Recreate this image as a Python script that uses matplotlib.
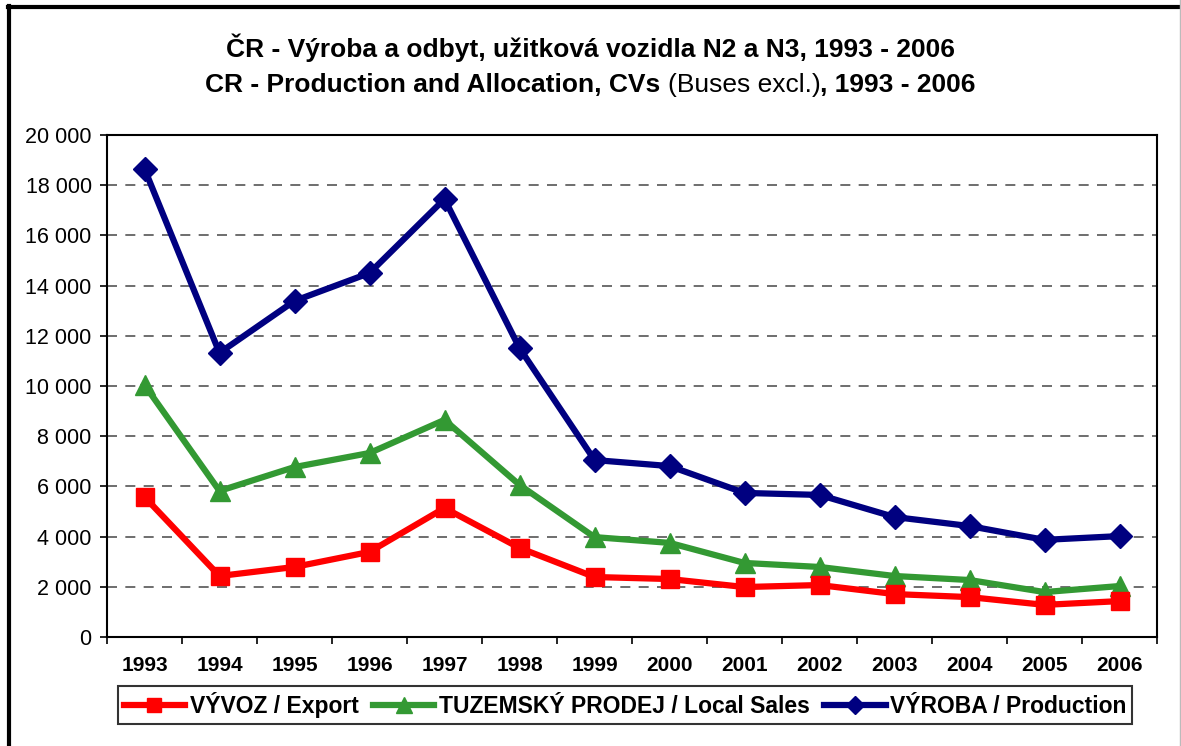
import matplotlib
matplotlib.use("Agg")
from matplotlib import pyplot as plt
from matplotlib.lines import Line2D

plt.rcParams['font.family'] = ['Liberation Sans', 'DejaVu Sans']

years = ['1993', '1994', '1995', '1996', '1997', '1998', '1999',
         '2000', '2001', '2002', '2003', '2004', '2005', '2006']
export = [5580, 2430, 2790, 3390, 5140, 3550, 2390,
          2310, 1990, 2070, 1710, 1590, 1280, 1430]
local_sales = [10040, 5820, 6770, 7330, 8650, 6060, 3980,
               3750, 2950, 2790, 2430, 2270, 1790, 2030]
production = [18650, 11320, 13390, 14500, 17450, 11510, 7050,
              6810, 5740, 5660, 4780, 4420, 3870, 4020]

W, H = 1181, 746
fig = plt.figure(figsize=(W / 100, H / 100), dpi=100)
ax = fig.add_axes([107 / W, (H - 637) / H, (1157 - 107) / W, (637 - 135) / H])

x = list(range(len(years)))
ax.plot(x, production, color='#000080', lw=4.5, marker='D', ms=12,
        label='VÝROBA / Production', zorder=3)
ax.plot(x, local_sales, color='#339933', lw=4.5, marker='^', ms=15,
        label='TUZEMSKÝ PRODEJ / Local Sales', zorder=4)
ax.plot(x, export, color='#ff0000', lw=4.5, marker='s', ms=13,
        label='VÝVOZ / Export', zorder=5)

ax.set_xlim(-0.5, len(years) - 0.5)
ax.set_ylim(0, 20000)
yt = list(range(0, 20001, 2000))
ax.set_yticks(yt)
ax.set_yticklabels([f'{v:,}'.replace(',', ' ') for v in yt], fontsize=15.5)
ax.set_xticks([i - 0.5 for i in range(len(years) + 1)])
ax.set_xticklabels([])
ax.set_xticks(x, minor=True)
ax.set_xticklabels(years, minor=True, fontsize=15, fontweight='bold')
ax.tick_params(axis='x', which='minor', length=0, pad=14)
ax.tick_params(axis='both', which='major', direction='out', length=5, width=1.2)
ax.tick_params(axis='y', pad=6)
for s in ax.spines.values():
    s.set_linewidth(1.5)
ax.yaxis.grid(True, linestyle=(0, (6, 5)), color='#555555', lw=1.2)
ax.set_axisbelow(True)

h, l = ax.get_legend_handles_labels()
order = [2, 1, 0]
leg = fig.legend([h[i] for i in order], [l[i] for i in order],
                 loc='center', bbox_to_anchor=(625 / W, (H - 705) / H),
                 ncol=3, frameon=True, fancybox=False, edgecolor='black',
                 handlelength=2.7, handletextpad=0.2, columnspacing=0.6,
                 borderpad=0.25, markerscale=0.8,
                 prop={'size': 16.5, 'weight': 'bold'})
leg.get_frame().set_linewidth(1.5)

# title, two lines, second with a non-bold part
fig.text(0.5, 1 - 48 / H, 'ČR - Výroba a odbyt, užitková vozidla N2 a N3, 1993 - 2006',
         ha='center', va='center', fontsize=19, fontweight='bold')
parts = [('CR - Production and Allocation, CVs ', 'bold'),
         ('(Buses excl.)', 'normal'),
         (', 1993 - 2006', 'bold')]
fig.canvas.draw()
r = fig.canvas.get_renderer()
texts = [fig.text(0, 1 - 85 / H, s, ha='left', va='center', fontsize=19, fontweight=w)
         for s, w in parts]
widths = [t.get_window_extent(r).width for t in texts]
xpos = (W - sum(widths)) / 2
for t, wd in zip(texts, widths):
    t.set_x(xpos / W)
    xpos += wd

# outer frame of the chart area
fig.add_artist(Line2D([9.5 / W, 9.5 / W], [0, 1 - 6 / H], color='black', lw=3))
fig.add_artist(Line2D([8 / W, 1], [1 - 6.5 / H, 1 - 6.5 / H], color='black', lw=3))
fig.add_artist(Line2D([1 - 1 / W, 1 - 1 / W], [0, 1], color='#bbbbbb', lw=1))

fig.savefig('out.png', dpi=100)
